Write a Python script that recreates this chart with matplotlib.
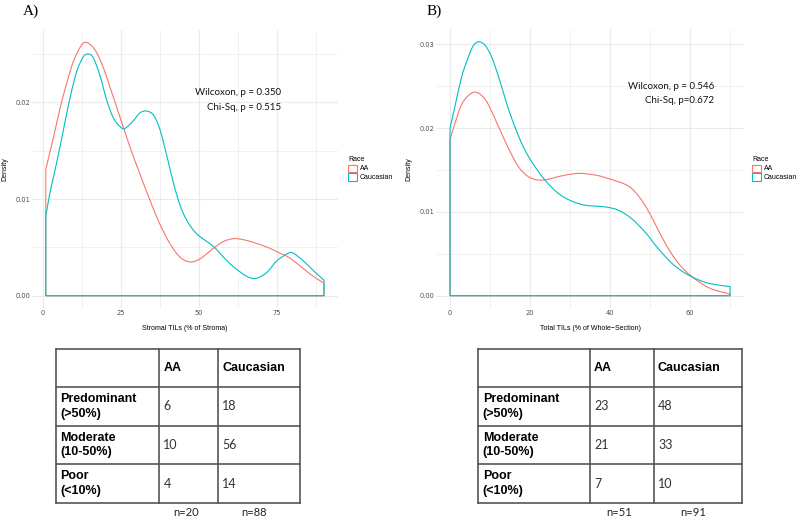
import matplotlib
matplotlib.use("Agg")
import matplotlib.pyplot as plt
from matplotlib.patches import Patch, PathPatch
from matplotlib.path import Path

# ---------------- data ----------------
races = ["AA", "Caucasian"]
colors = ["#F8766D", "#00BFC4"]

# Panel A: Stromal TILs density curves
stromal_aa_x = [1, 3.4, 5.5, 7.7, 9.8, 12.0, 13.5, 15.5, 17.5, 19.5, 21.5, 24.7, 27.9, 31.1,
                34.3, 37.5, 40.7, 43.9, 47.1, 50.3, 54.6, 57.8, 61, 64.2, 68.5, 72.7, 75.9,
                79.1, 83.4, 86.6, 90]
stromal_aa_y = [0.0131, 0.0163, 0.0193, 0.0220, 0.0242, 0.0257, 0.0262, 0.0259, 0.0250, 0.0235,
                0.0216, 0.0185, 0.0154, 0.0126, 0.0099, 0.0074, 0.0054, 0.0040, 0.0035, 0.0038,
                0.0049, 0.0056, 0.0059, 0.0058, 0.0054, 0.0049, 0.0044, 0.0039, 0.0028, 0.0020,
                0.0013]
stromal_cau_x = [1, 2.3, 4.5, 6.6, 8.7, 10.9, 13, 14.6, 16.2, 18.3, 20.5, 22.6, 24.7, 26.3, 29,
                 31.1, 33.1, 35.4, 37.5, 39.7, 41.8, 43.9, 46.1, 49.3, 54.6, 57.8, 61, 65.3,
                 68.3, 71.7, 74.9, 78.6, 80.2, 83.4, 86.6, 90]
stromal_cau_y = [0.0082, 0.0106, 0.0138, 0.0171, 0.0204, 0.0232, 0.0247, 0.0250, 0.0246, 0.0228,
                 0.0202, 0.0184, 0.0175, 0.0173, 0.0181, 0.0189, 0.0191, 0.0187, 0.0172, 0.0145,
                 0.0117, 0.0094, 0.0078, 0.0064, 0.0051, 0.0040, 0.0030, 0.0020, 0.0018, 0.0024,
                 0.0036, 0.0044, 0.0044, 0.0036, 0.0026, 0.0016]

# Panel B: Total TILs density curves
total_aa_x = [0, 1.25, 2.9, 4.6, 6.25, 7.9, 9.6, 12.1, 14.6, 17.1, 19.6, 22.1, 24.6, 27.9, 32.1,
              36.25, 38.75, 43.75, 46.25, 48.75, 51.25, 53.75, 56.25, 58.75, 62.1, 65.4, 70]
total_aa_y = [0.0186, 0.0206, 0.0228, 0.0239, 0.0243, 0.0239, 0.0228, 0.0202, 0.0176, 0.0154,
              0.0142, 0.0138, 0.0139, 0.0143, 0.0146, 0.0144, 0.0141, 0.0133, 0.0124, 0.0108,
              0.0086, 0.0063, 0.0044, 0.0030, 0.0017, 0.0008, 0.0002]
total_cau_x = [0, 1.25, 2.9, 4.6, 5.8, 7.1, 8.75, 10.4, 12.1, 13.75, 15.4, 17.9, 20.4, 23.75,
               27.1, 30.4, 33.75, 38.75, 42.1, 45.4, 48.75, 52.1, 55.4, 58.75, 62.1, 65.4, 70]
total_cau_y = [0.0200, 0.0226, 0.0261, 0.0285, 0.0298, 0.0303, 0.0299, 0.0285, 0.0262, 0.0236,
               0.0212, 0.0182, 0.0160, 0.0138, 0.0122, 0.0113, 0.0108, 0.0106, 0.0102, 0.0092,
               0.0076, 0.0056, 0.0039, 0.0027, 0.0019, 0.0014, 0.0011]

# Tables
row_labels = ["Predominant\n(>50%)", "Moderate\n(10-50%)", "Poor\n(<10%)"]
col_labels = ["AA", "Caucasian"]
stromal_counts_aa = [6, 10, 4]
stromal_counts_cau = [18, 56, 14]
total_counts_aa = [23, 21, 7]
total_counts_cau = [48, 33, 10]
stromal_n = ["n=20", "n=88"]
total_n = ["n=51", "n=91"]

annot_a = ["Wilcoxon, p = 0.350", "Chi-Sq, p = 0.515"]
annot_b = ["Wilcoxon, p = 0.546", "Chi-Sq, p=0.672"]

# ---------------- figure ----------------
W, H = 800, 522
fig = plt.figure(figsize=(8, 5.22), dpi=100)

def fax(l, t, r, b):
    return fig.add_axes([l / W, 1 - b / H, (r - l) / W, (b - t) / H])

GRID = "#EBEBEB"
TICKC = "#4D4D4D"

def style(ax, xmaj, xmin, ymaj, ymin, xlabel):
    for s in ax.spines.values():
        s.set_visible(False)
    ax.set_xticks(xmaj)
    ax.set_xticks(xmin, minor=True)
    ax.set_yticks(ymaj)
    ax.set_yticks(ymin, minor=True)
    ax.set_yticklabels([f"{v:.2f}" for v in ymaj])
    ax.grid(True, which="major", color=GRID, lw=0.8)
    ax.grid(True, which="minor", color=GRID, lw=0.5)
    ax.set_axisbelow(True)
    ax.tick_params(which="both", length=0, labelsize=4.8, colors=TICKC, pad=1.5)
    ax.tick_params(axis="y", pad=1)
    ax.set_xlabel(xlabel, fontsize=5, family="Liberation Sans", labelpad=6)
    ax.set_ylabel("Density", fontsize=5, family="Liberation Sans", labelpad=5)

def density(ax, xs, ys, color):
    # outline of a density polygon; curve drawn as a smooth Bezier through the read points
    pts = list(zip(xs, ys))
    n = len(pts)
    verts = [(xs[0], 0.0), pts[0]]
    codes = [Path.MOVETO, Path.LINETO]
    for i in range(n - 1):
        p0 = pts[i - 1] if i > 0 else pts[i]
        p1 = pts[i]
        p2 = pts[i + 1]
        p3 = pts[i + 2] if i + 2 < n else pts[i + 1]
        c1 = (p1[0] + (p2[0] - p0[0]) / 6.0, p1[1] + (p2[1] - p0[1]) / 6.0)
        c2 = (p2[0] - (p3[0] - p1[0]) / 6.0, p2[1] - (p3[1] - p1[1]) / 6.0)
        verts += [c1, c2, p2]
        codes += [Path.CURVE4] * 3
    verts += [(xs[-1], 0.0), (xs[0], 0.0)]
    codes += [Path.LINETO, Path.LINETO]
    ax.add_patch(PathPatch(Path(verts, codes), facecolor="none", edgecolor=color,
                           lw=0.8, joinstyle="round"))

# Panel A
axA = fax(31.9, 29.7, 337.9, 308.4)
density(axA, stromal_aa_x, stromal_aa_y, colors[0])
density(axA, stromal_cau_x, stromal_cau_y, colors[1])
axA.set_xlim(-3.45, 94.45)
axA.set_ylim(-0.00131, 0.02751)
style(axA, [0, 25, 50, 75], [12.5, 37.5, 62.5, 87.5], [0, 0.01, 0.02], [0.005, 0.015, 0.025],
      "Stromal TILs (% of Stroma)")
for txt, yy in zip(annot_a, [0.0210, 0.0195]):
    axA.text(76.3, yy, txt, ha="right", va="center", fontsize=7, family="Lato", color="#111111")

# Panel B
axB = fax(436, 29.1, 744, 308.4)
density(axB, total_aa_x, total_aa_y, colors[0])
density(axB, total_cau_x, total_cau_y, colors[1])
axB.set_xlim(-3.5, 73.5)
axB.set_ylim(-0.001515, 0.031815)
style(axB, [0, 20, 40, 60], [10, 30, 50, 70], [0, 0.01, 0.02, 0.03], [0.005, 0.015, 0.025],
      "Total TILs (% of Whole\u2212Section)")
for txt, yy in zip(annot_b, [0.02502, 0.02335]):
    axB.text(66, yy, txt, ha="right", va="center", fontsize=7, family="Lato", color="#111111")

# Legends
handles = [Patch(facecolor="none", edgecolor=c, lw=0.8) for c in colors]
for lx in (345, 749):
    fig.legend(handles, races, title="Race", loc="upper left",
               bbox_to_anchor=(lx / W, 1 - 153 / H), frameon=False,
               prop={"family": "Liberation Sans", "size": 5},
               title_fontproperties={"family": "Liberation Sans", "size": 5},
               handlelength=1.2, handleheight=1.2, handletextpad=0.4,
               borderpad=0, labelspacing=0.15, alignment="left")

# Overlay for tables and panel labels
ov = fig.add_axes([0, 0, 1, 1], zorder=-1)
ov.set_xlim(0, W)
ov.set_ylim(H, 0)
ov.axis("off")

ov.text(23, 11, "A)", fontsize=11, family="Liberation Serif", va="center", ha="left")
ov.text(427, 11, "B)", fontsize=11, family="Liberation Serif", va="center", ha="left")

LINE = "#555555"
row_y = [349, 387.3, 425.7, 464.3, 502.7]

def table(x_edges, aa_vals, cau_vals):
    x0, x1, x2, x3 = x_edges
    for y in row_y:
        ov.plot([x0, x3], [y, y], color=LINE, lw=1.2, solid_capstyle="projecting")
    for x in x_edges:
        ov.plot([x, x], [row_y[0], row_y[-1]], color=LINE, lw=1.2, solid_capstyle="projecting")
    hy = (row_y[0] + row_y[1]) / 2
    ov.text(x1 + 4, hy, col_labels[0], fontsize=9, fontweight="bold",
            family="Liberation Sans", va="center", ha="left")
    ov.text(x2 + 4, hy, col_labels[1], fontsize=9, fontweight="bold",
            family="Liberation Sans", va="center", ha="left")
    for i, lab in enumerate(row_labels):
        cy = (row_y[i + 1] + row_y[i + 2]) / 2
        ov.text(x0 + 4.5, cy, lab, fontsize=9, fontweight="bold", family="Liberation Sans",
                va="center", ha="left", linespacing=1.25)
        ov.text(x1 + 4, cy, str(aa_vals[i]), fontsize=9, family="Lato", color="#333333",
                va="center", ha="left")
        ov.text(x2 + 4, cy, str(cau_vals[i]), fontsize=9, family="Lato", color="#333333",
                va="center", ha="left")

table([55.7, 159.3, 218.3, 300], stromal_counts_aa, stromal_counts_cau)
table([478.3, 590, 654, 741.7], total_counts_aa, total_counts_cau)

for xc, lab in zip([186, 254.5], stromal_n):
    ov.text(xc, 512, lab, fontsize=8, family="Lato", color="#222222", ha="center", va="center")
for xc, lab in zip([619, 693], total_n):
    ov.text(xc, 512, lab, fontsize=8, family="Lato", color="#222222", ha="center", va="center")

fig.savefig("out.png", dpi=100, facecolor="white")
